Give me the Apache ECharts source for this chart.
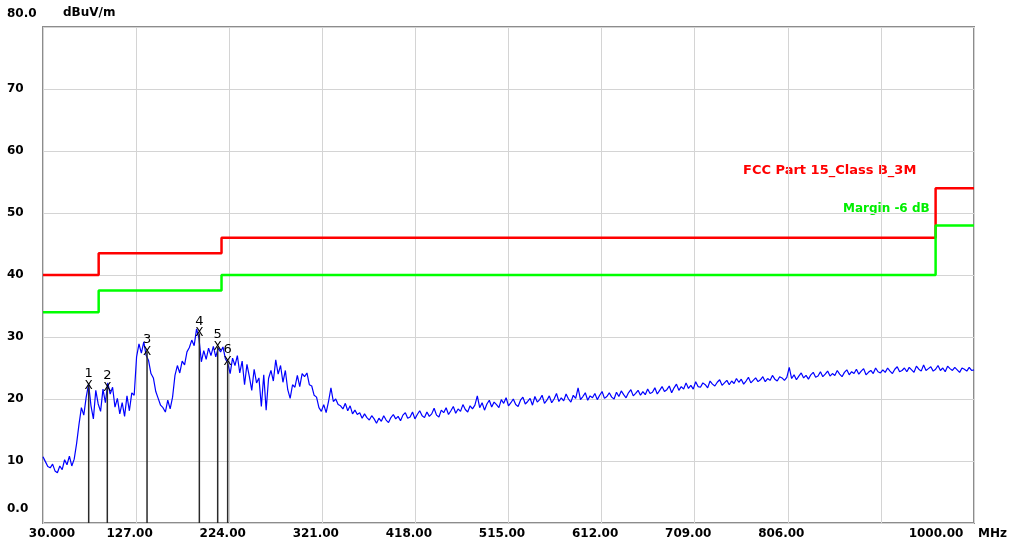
<!DOCTYPE html>
<html>
<head>
<meta charset="utf-8">
<script src="https://cdn.jsdelivr.net/npm/echarts@6/dist/echarts.min.js"></script>
<style>html,body{margin:0;padding:0;background:#fff;}#c{width:1010px;height:545px;}</style>
</head>
<body>
<div id="c"></div>
<script>
// ---- data ----
const xTickValues = [30, 127, 224, 321, 418, 515, 612, 709, 806, 903, 1000];
const xTickLabels = ['30.000', '127.00', '224.00', '321.00', '418.00', '515.00', '612.00', '709.00', '806.00', '', '1000.00'];
const yTickLabels = {0: '0.0', 10: '10', 20: '20', 30: '30', 40: '40', 50: '50', 60: '60', 70: '70', 80: '80.0'};

const limitFreqs = [30, 88, 216, 960, 1000];
const fccLimit = [40, 43.5, 46, 54, 54];
const marginLimit = [34, 37.5, 40, 48, 48];

const markerIds = [1, 2, 3, 4, 5, 6];
const markerFreqs = [77.6, 97.0, 138.4, 192.9, 212.0, 222.4];
const markerLevels = [22.1, 21.8, 27.6, 30.6, 28.4, 26.0];

// measured trace, 2.5 MHz spacing starting at 30 MHz
const traceStart = 30;
const traceStep = 2.5;
const traceLevels = [
  10.7, 9.9, 9.1, 8.9, 9.5, 8.4, 8.1, 9.2, 8.6, 10.2,
  9.4, 10.8, 9.2, 10.3, 12.8, 15.9, 18.6, 17.4, 20.3, 22.4,
  18.9, 16.8, 21.4, 19.2, 18.0, 21.6, 19.4, 22.6, 20.8, 21.9,
  18.7, 20.1, 17.6, 19.4, 17.2, 20.5, 18.1, 21.0, 20.6, 26.8,
  28.9, 27.4, 29.2, 27.0, 26.2, 24.1, 23.4, 21.2, 20.1, 19.0,
  18.6, 17.9, 19.8, 18.4, 20.3, 23.8, 25.4, 24.2, 26.1, 25.5,
  27.6, 28.3, 29.5, 28.6, 31.3, 29.8, 26.0, 27.8, 26.4, 28.2,
  27.0, 28.5, 26.8, 28.2, 27.6, 28.4, 26.5, 25.8, 24.1, 26.6,
  25.4, 27.0, 24.2, 26.1, 22.3, 25.6, 23.6, 21.4, 24.8, 22.6,
  23.4, 18.8, 23.9, 18.2, 23.3, 24.6, 22.9, 26.3, 24.0, 25.4,
  22.7, 24.6, 21.5, 20.1, 22.3, 21.9, 23.8, 22.0, 24.1, 23.6,
  24.2, 22.3, 22.1, 20.6, 20.3, 18.6, 18.0, 19.1, 17.8, 19.6,
  21.8, 19.6, 20.0, 19.1, 18.9, 18.4, 19.3, 18.1, 18.9, 17.6,
  18.2, 17.5, 17.8, 16.9, 17.6, 17.0, 16.6, 17.3, 16.8, 16.1,
  16.9, 16.4, 17.3, 16.6, 16.2, 17.0, 17.5, 16.8, 17.2, 16.5,
  17.4, 17.8, 16.9, 17.1, 17.9, 16.8, 17.5, 18.1, 17.3, 17.0,
  17.9, 17.2, 17.6, 18.5, 17.4, 17.1, 18.2, 17.8, 18.6, 17.5,
  18.1, 18.8, 17.7, 18.4, 18.0, 19.1, 18.3, 17.9, 18.9, 18.4,
  19.0, 20.5, 18.6, 19.4, 18.2, 19.2, 19.8, 18.7, 19.5, 19.1,
  18.6, 19.9, 19.3, 20.2, 18.9, 19.4, 20.0, 19.1, 18.8, 19.8,
  20.3, 19.2, 19.6, 20.1, 19.0, 20.4, 19.5, 19.9, 20.6, 19.3,
  19.8, 20.5, 19.4, 20.0, 20.9, 19.6, 20.2, 19.7, 20.8, 20.0,
  19.5, 20.6, 20.1, 21.8, 19.9, 20.4, 21.0, 19.8, 20.5, 20.2,
  20.9, 19.9, 20.6, 21.2, 20.1, 20.4, 21.0, 20.3, 20.0, 21.1,
  20.4, 21.3, 20.7, 20.2, 21.0, 21.5, 20.5, 20.9, 21.4, 20.6,
  21.2, 20.7, 21.6, 20.9, 21.1, 21.8, 20.8, 21.4, 22.0, 21.2,
  21.5, 22.1, 21.0, 21.8, 22.4, 21.4, 22.0, 21.6, 22.6, 21.7,
  22.2, 21.6, 22.8, 22.0, 21.9, 22.6, 22.3, 21.8, 22.9, 22.4,
  22.1, 22.7, 23.1, 22.2, 22.6, 23.0, 22.3, 22.9, 22.5, 23.3,
  22.7, 23.2, 22.4, 22.9, 23.5, 22.6, 23.0, 23.4, 22.8, 23.1,
  23.6, 22.8, 23.3, 23.0, 23.8, 23.2, 22.9, 23.6, 23.4, 23.0,
  23.5, 25.1, 23.3, 23.9, 23.1, 23.7, 24.2, 23.4, 23.8, 23.2,
  23.9, 24.3, 23.5, 23.7, 24.4, 23.6, 24.0, 24.5, 23.7, 24.1,
  23.8, 24.6, 24.0, 23.6, 24.3, 24.7, 23.9, 24.4, 24.1, 24.8,
  24.0, 24.5, 24.9, 23.9, 24.3, 24.6, 24.1, 25.0, 24.4, 24.2,
  24.7, 24.3, 25.0, 24.5, 24.1, 24.8, 25.2, 24.4, 24.6, 25.0,
  24.4, 25.1, 24.7, 24.3, 25.3, 24.8, 24.5, 25.5, 24.6, 24.9,
  25.2, 24.5, 24.8, 25.4, 24.6, 25.0, 24.4, 25.3, 24.9, 24.6,
  25.1, 24.7, 24.3, 25.0, 24.8, 24.5, 25.1, 24.6, 24.7
];

// ---- build ----
const traceData = traceLevels.map((v, i) => [traceStart + i * traceStep, v]);
const fccData = limitFreqs.map((f, i) => [f, fccLimit[i]]);
const marginData = limitFreqs.map((f, i) => [f, marginLimit[i]]);
const markerData = markerFreqs.map((f, i) => [f, markerLevels[i], markerIds[i]]);

const FONT = 'DejaVu Sans';
const chart = echarts.init(document.getElementById('c'), null, {renderer: 'canvas'});

chart.setOption({
  backgroundColor: '#ffffff',
  animation: false,
  grid: {left: 43, top: 27, right: 36, bottom: 22, show: true, borderColor: '#8c8c8c', borderWidth: 2, backgroundColor: 'transparent'},
  xAxis: {
    type: 'value', min: 30, max: 1000, interval: 97,
    axisLine: {show: false}, axisTick: {show: false},
    splitLine: {show: true, lineStyle: {color: '#d4d4d4', width: 1}},
    axisLabel: {
      showMinLabel: true, showMaxLabel: true, margin: 5,
      formatter: function (v) {
        const idx = xTickValues.indexOf(Math.round(v));
        const t = idx >= 0 ? xTickLabels[idx] : '';
        if (!t) return '';
        if (idx === 0) return '{first|' + t + '}';
        if (idx === xTickValues.length - 1) return '{last|' + t + '}';
        return '{mid|' + t + '}';
      },
      rich: {
        first: {fontFamily: FONT, fontWeight: 'bold', fontSize: 12, color: '#000', padding: [0, 0, 0, 18]},
        mid: {fontFamily: FONT, fontWeight: 'bold', fontSize: 12, color: '#000', padding: [0, 13, 0, 0]},
        last: {fontFamily: FONT, fontWeight: 'bold', fontSize: 12, color: '#000', padding: [0, 76, 0, 0]}
      }
    }
  },
  yAxis: {
    type: 'value', min: 0, max: 80, interval: 10,
    axisLine: {show: false}, axisTick: {show: false},
    splitLine: {show: true, lineStyle: {color: '#d4d4d4', width: 1}},
    axisLabel: {
      showMinLabel: true, showMaxLabel: true, margin: 36, align: 'left',
      formatter: function (v) {
        const t = yTickLabels[Math.round(v)];
        if (v === 0) return '{low|' + t + '}';
        if (v === 80) return '{top|' + t + '}';
        return '{n|' + t + '}';
      },
      rich: {
        n: {fontFamily: FONT, fontWeight: 'bold', fontSize: 12, color: '#000'},
        low: {fontFamily: FONT, fontWeight: 'bold', fontSize: 12, color: '#000', padding: [0, 0, 29, 0]},
        top: {fontFamily: FONT, fontWeight: 'bold', fontSize: 12, color: '#000', padding: [0, 0, 27, 0]}
      }
    }
  },
  graphic: [
    {type: 'text', left: 63, top: 7, style: {text: 'dBuV/m', font: 'bold 12px "DejaVu Sans"', fill: '#000'}},
    {type: 'text', left: 978, top: 528, style: {text: 'MHz', font: 'bold 12px "DejaVu Sans"', fill: '#000'}},
    {type: 'text', left: 743, top: 164, style: {text: 'FCC Part 15_Class B_3M', font: 'bold 13px "DejaVu Sans"', fill: '#ff0000'}},
    {type: 'text', left: 843, top: 203, style: {text: 'Margin -6 dB', font: 'bold 12px "DejaVu Sans"', fill: '#00ee00'}}
  ],
  series: [
    {type: 'line', data: fccData, step: 'end', symbol: 'none', lineStyle: {color: '#ff0000', width: 2.5}, z: 3},
    {type: 'line', data: marginData, step: 'end', symbol: 'none', lineStyle: {color: '#00ff00', width: 2.5}, z: 3},
    {type: 'line', data: traceData, symbol: 'none', lineStyle: {color: '#0000ff', width: 1.2}, z: 4},
    {
      type: 'custom', data: markerData, z: 5,
      renderItem: function (params, api) {
        const f = api.value(0), v = api.value(1);
        const p = api.coord([f, v]);
        const b = api.coord([f, 0]);
        return {type: 'group', children: [
          {type: 'line', shape: {x1: p[0], y1: p[1], x2: b[0], y2: b[1]}, style: {stroke: '#2a2a2a', lineWidth: 1.5}},
          {type: 'text', x: p[0], y: p[1], style: {text: 'X', align: 'center', verticalAlign: 'middle', font: '12px "DejaVu Sans"', fill: '#000'}},
          {type: 'text', x: p[0], y: p[1] - 12, style: {text: String(api.value(2)), align: 'center', verticalAlign: 'middle', font: '13px "DejaVu Sans"', fill: '#000'}}
        ]};
      }
    }
  ]
});
</script>
</body>
</html>
